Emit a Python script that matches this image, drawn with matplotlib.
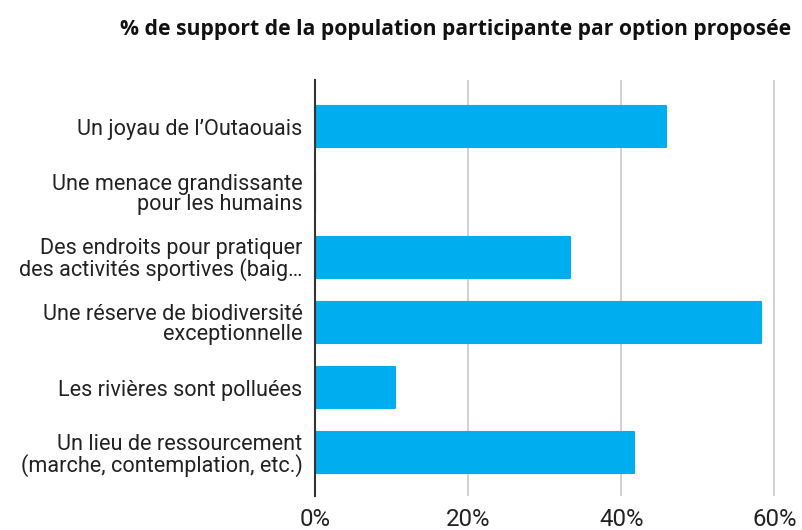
import matplotlib
matplotlib.use("Agg")
import matplotlib.pyplot as plt
from matplotlib.ticker import FuncFormatter

categories = [
    "Un joyau de l\u2019Outaouais",
    "Une menace grandissante\npour les humains",
    "Des endroits pour pratiquer\ndes activit\u00e9s sportives (baig\u2026",
    "Une r\u00e9serve de biodiversit\u00e9\nexceptionnelle",
    "Les rivi\u00e8res sont pollu\u00e9es",
    "Un lieu de ressourcement\n(marche, contemplation, etc.)",
]
support_pct = [45.8, 0.0, 33.3, 58.3, 10.4, 41.7]
x_ticks = [0, 20, 40, 60]
title = "% de support de la population participante par option propos\u00e9e"

bar_color = "#00AEEF"

fig = plt.figure(figsize=(8.02, 5.30), dpi=100)
ax = fig.add_axes([0.3928, 0.0642, 0.5748, 0.7849])

y = list(range(len(categories)))
ax.barh(y, support_pct, height=0.63, color=bar_color, edgecolor=bar_color,
        linewidth=1.5, joinstyle="round", zorder=3)

ax.set_ylim(5.66, -0.72)
ax.set_xlim(0, 60.2)
ax.set_xticks(x_ticks)
ax.xaxis.set_major_formatter(FuncFormatter(lambda v, p: f"{v:.0f}%"))
ax.set_yticks(y)
ax.set_yticklabels(categories, fontfamily="Roboto", fontsize=15.6,
                   linespacing=0.95, color="#222222")
for lbl in ax.get_xticklabels():
    lbl.set_fontfamily("Roboto")
    lbl.set_fontsize(17.3)
    lbl.set_color("#222222")

ax.grid(axis="x", color="#C8C8C8", linewidth=1.2, zorder=0)
ax.tick_params(axis="both", length=0)
ax.tick_params(axis="y", pad=9)
ax.tick_params(axis="x", pad=9)
for side in ("top", "right", "bottom"):
    ax.spines[side].set_visible(False)
ax.spines["left"].set_color("#333333")
ax.spines["left"].set_linewidth(1.5)
ax.spines["left"].set_zorder(4)

fig.text(0.987, 0.945, title, ha="right", va="center",
         fontfamily="Open Sans", fontweight="bold", fontsize=15.2, color="#111111")

fig.savefig("out.png", dpi=100)
